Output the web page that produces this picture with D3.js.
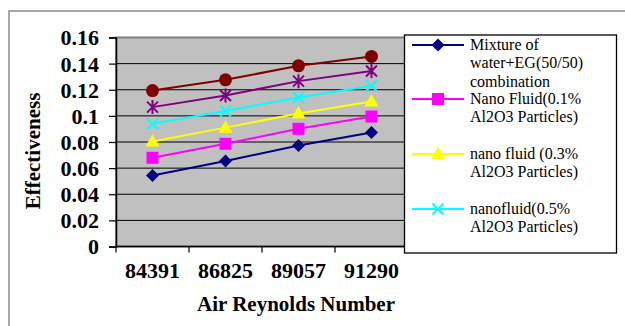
<!DOCTYPE html>
<html lang="en">
<head>
<meta charset="UTF-8">
<title>Effectiveness vs Air Reynolds Number</title>
<script src="https://d3js.org/d3.v7.min.js"></script>
<style>
    body { margin: 0; background: #fff; }
    svg text { font-family: "Liberation Serif", "Times New Roman", serif; }
</style>
</head>
<body>
<script>

    var categories = ["84391", "86825", "89057", "91290"];
    var yTicks = [0, 0.02, 0.04, 0.06, 0.08, 0.1, 0.12, 0.14, 0.16];

    var water = [0.0544, 0.0654, 0.0773, 0.0873];
    var nano01 = [0.0679, 0.0786, 0.0901, 0.0995];
    var nano03 = [0.0804, 0.0910, 0.1018, 0.1110];
    var nano05 = [0.0939, 0.1037, 0.1141, 0.1230];
    var seriesE = [0.1067, 0.1156, 0.1266, 0.1343];
    var seriesF = [0.1194, 0.1276, 0.1383, 0.1455];

    var series = [
        { name: ["Mixture of", "water+EG(50/50)", "combination"], values: water, color: "#000080", marker: "diamond", legendY: 45 },
        { name: ["Nano Fluid(0.1%", "Al2O3 Particles)"], values: nano01, color: "#ff00ff", marker: "square", legendY: 99 },
        { name: ["nano fluid (0.3%", "Al2O3 Particles)"], values: nano03, color: "#ffff00", marker: "triangle", legendY: 154 },
        { name: ["nanofluid(0.5%", "Al2O3 Particles)"], values: nano05, color: "#00ffff", marker: "x", legendY: 209 },
        { name: null, values: seriesE, color: "#800080", marker: "star" },
        { name: null, values: seriesF, color: "#800000", marker: "circle" }
    ];

    var width = 625;
    var height = 326;
    var plot = { left: 116, right: 408, top: 37.5, bottom: 246.5 };

    var svg = d3.select("body").append("svg")
        .attr("width", width)
        .attr("height", height);

    // outer chart frame
    svg.append("rect")
        .attr("x", 9).attr("y", 11)
        .attr("width", 640).attr("height", 340)
        .attr("fill", "none")
        .attr("stroke", "#8c8c8c")
        .attr("stroke-width", 1.5);

    var x = d3.scalePoint()
        .domain(categories)
        .range([plot.left, plot.right])
        .padding(0.5);

    var y = d3.scaleLinear()
        .domain([0, 0.16])
        .range([plot.bottom, plot.top]);

    // plot area
    svg.append("rect")
        .attr("x", plot.left).attr("y", plot.top)
        .attr("width", plot.right - plot.left)
        .attr("height", plot.bottom - plot.top)
        .attr("fill", "#c0c0c0")
        .attr("stroke", "#808080")
        .attr("stroke-width", 2);

    // gridlines
    svg.selectAll(".grid")
        .data(yTicks.slice(1, -1))
        .enter()
        .append("line")
        .attr("class", "grid")
        .attr("x1", plot.left).attr("x2", plot.right)
        .attr("y1", function (d) { return y(d); })
        .attr("y2", function (d) { return y(d); })
        .attr("stroke", "#000")
        .attr("stroke-width", 1);

    // y axis
    var yAxis = d3.axisLeft(y)
        .tickValues(yTicks)
        .tickSize(7)
        .tickPadding(10)
        .tickFormat(function (d) { return d3.format("")(+d.toFixed(2)); });

    var yg = svg.append("g")
        .attr("transform", "translate(" + plot.left + ",0)")
        .call(yAxis);
    yg.select(".domain").attr("stroke", "#000").attr("stroke-width", 1.5);
    yg.selectAll(".tick line").attr("stroke", "#000").attr("stroke-width", 1.2);
    yg.selectAll("text")
        .attr("font-size", "22px")
        .attr("font-weight", "bold")
        .attr("fill", "#000")
        .attr("dy", "0.34em");

    // x axis, ticks sit on category boundaries
    var band = x.step();
    var xg = svg.append("g")
        .attr("transform", "translate(0," + plot.bottom + ")");
    xg.append("line")
        .attr("x1", plot.left).attr("x2", plot.right)
        .attr("stroke", "#000").attr("stroke-width", 1.5);
    xg.selectAll(".xtick")
        .data(d3.range(categories.length))
        .enter()
        .append("line")
        .attr("class", "xtick")
        .attr("x1", function (i) { return plot.left + i * band; })
        .attr("x2", function (i) { return plot.left + i * band; })
        .attr("y1", 0).attr("y2", 6)
        .attr("stroke", "#000").attr("stroke-width", 1.2);
    xg.selectAll(".xlabel")
        .data(categories)
        .enter()
        .append("text")
        .attr("class", "xlabel")
        .attr("x", function (d) { return x(d); })
        .attr("y", 31)
        .attr("text-anchor", "middle")
        .attr("font-size", "22px")
        .attr("font-weight", "bold")
        .text(function (d) { return d; });

    // axis titles
    svg.append("text")
        .attr("x", 296).attr("y", 311)
        .attr("text-anchor", "middle")
        .attr("font-size", "21px")
        .attr("font-weight", "bold")
        .text("Air Reynolds Number");

    svg.append("text")
        .attr("transform", "translate(40,151) rotate(-90)")
        .attr("text-anchor", "middle")
        .attr("font-size", "21px")
        .attr("font-weight", "bold")
        .text("Effectiveness");

    function drawMarker(g, type, color) {
        if (type === "diamond") {
            g.append("path").attr("d", "M0,-6.5L6.5,0L0,6.5L-6.5,0Z").attr("fill", color);
        } else if (type === "square") {
            g.append("rect").attr("x", -6).attr("y", -6).attr("width", 12).attr("height", 12).attr("fill", color);
        } else if (type === "triangle") {
            g.append("path").attr("d", "M0,-7.5L7,5L-7,5Z").attr("fill", color);
        } else if (type === "circle") {
            g.append("circle").attr("r", 6.5).attr("fill", color);
        } else if (type === "x") {
            g.append("path").attr("d", "M-5.5,-5.5L5.5,5.5M5.5,-5.5L-5.5,5.5")
                .attr("stroke", color).attr("stroke-width", 2).attr("fill", "none");
        } else if (type === "star") {
            g.append("path").attr("d", "M-5.5,-5.5L5.5,5.5M5.5,-5.5L-5.5,5.5M0,-7L0,7")
                .attr("stroke", color).attr("stroke-width", 2).attr("fill", "none");
        }
    }

    var line = d3.line()
        .x(function (d, i) { return x(categories[i]); })
        .y(function (d) { return y(d); });

    series.forEach(function (s) {
        svg.append("path")
            .datum(s.values)
            .attr("d", line)
            .attr("fill", "none")
            .attr("stroke", s.color)
            .attr("stroke-width", 2);

        s.values.forEach(function (v, i) {
            var g = svg.append("g")
                .attr("transform", "translate(" + x(categories[i]) + "," + y(v) + ")");
            drawMarker(g, s.marker, s.color);
        });
    });

    // legend
    var legend = svg.append("g");
    legend.append("rect")
        .attr("x", 404.5).attr("y", 35)
        .attr("width", 212).attr("height", 218)
        .attr("fill", "#fff")
        .attr("stroke", "#000")
        .attr("stroke-width", 1.3);

    series.filter(function (s) { return s.name; }).forEach(function (s) {
        var ly = s.legendY;
        legend.append("line")
            .attr("x1", 412).attr("x2", 464)
            .attr("y1", ly).attr("y2", ly)
            .attr("stroke", s.color)
            .attr("stroke-width", 2);
        var g = legend.append("g").attr("transform", "translate(438," + ly + ")");
        drawMarker(g, s.marker, s.color);
        s.name.forEach(function (t, k) {
            legend.append("text")
                .attr("x", 470)
                .attr("y", ly + 4.5 + k * 18.5)
                .attr("font-size", "16px")
                .text(t);
        });
    });

</script>
</body>
</html>
